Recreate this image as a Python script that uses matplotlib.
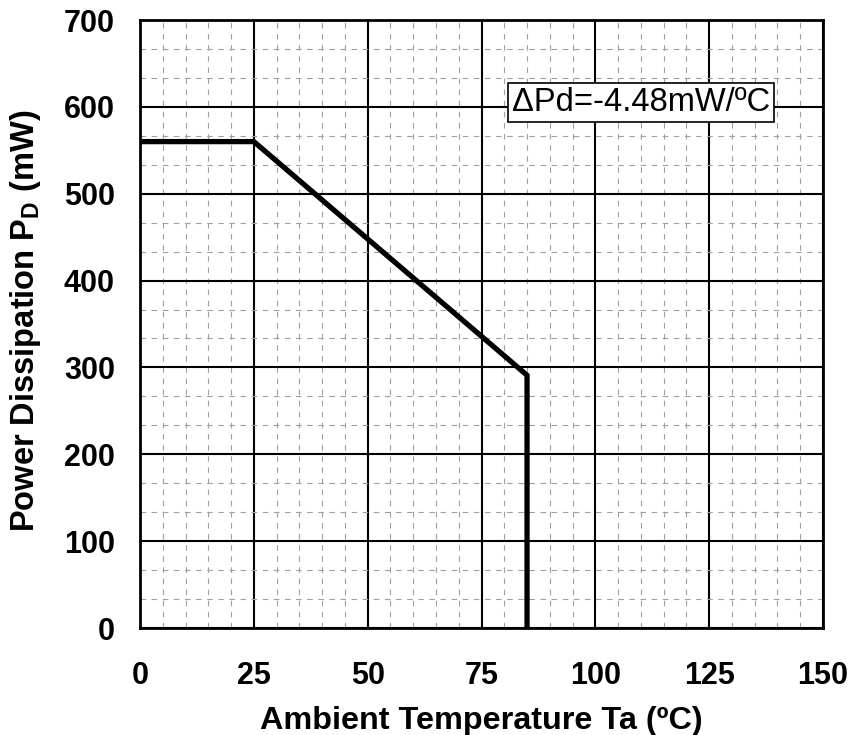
import numpy as np
import matplotlib.pyplot as plt
from matplotlib.ticker import MultipleLocator

plt.rcParams['font.family'] = ['Liberation Sans', 'DejaVu Sans']
plt.rcParams['mathtext.fontset'] = 'custom'
plt.rcParams['mathtext.rm'] = 'Liberation Sans:bold'
plt.rcParams['mathtext.bf'] = 'Liberation Sans:bold'

# Derating curve
temp = [0, 25, 85, 85]
power = [560, 560, 291, 0]

x_ticks = [0, 25, 50, 75, 100, 125, 150]
y_ticks = [0, 100, 200, 300, 400, 500, 600, 700]

fig = plt.figure(figsize=(8.51, 7.35), dpi=100)
ax = fig.add_axes([140/851, (735-628)/735, 683/851, 608/735])

ax.set_xlim(0, 150)
ax.set_ylim(0, 700)
ax.set_xticks(x_ticks)
ax.set_yticks(y_ticks)
ax.xaxis.set_minor_locator(MultipleLocator(5))
ax.yaxis.set_minor_locator(MultipleLocator(100/3))

ax.grid(which='minor', color='#a0a0a0', linestyle=(0, (5, 5)), linewidth=0.8)
ax.grid(which='major', color='black', linestyle='-', linewidth=1.5)
ax.set_axisbelow(True)

ax.plot(temp, power, color='black', linewidth=3.8, solid_joinstyle='miter')

for s in ax.spines.values():
    s.set_linewidth(2)

ax.tick_params(which='both', length=0)
ax.tick_params(axis='x', pad=24, labelsize=22)
ax.tick_params(axis='y', pad=18, labelsize=22)
for lab in ax.get_xticklabels() + ax.get_yticklabels():
    lab.set_fontweight('bold')

ax.set_xlabel('Ambient Temperature Ta (ºC)', fontsize=23.3, fontweight='bold')
ax.set_ylabel(r'Power Dissipation P$_{\mathrm{D}}$ (mW)', fontsize=23.5, fontweight='bold')
ax.xaxis.set_label_coords(0.5, -0.128)
ax.yaxis.set_label_coords(-0.142, 0.506)

ax.text(110, 605, 'ΔPd=-4.48mW/ºC', fontsize=23.5, ha='center', va='center',
        bbox=dict(boxstyle='square,pad=0.12', facecolor='white', edgecolor='black', linewidth=1.2))

fig.savefig('out.png', dpi=100)
